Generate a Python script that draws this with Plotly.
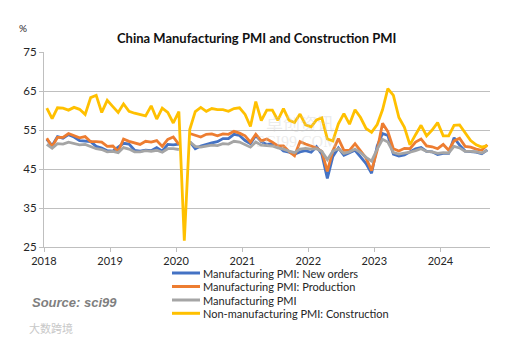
import pandas as pd
import plotly.graph_objects as go

# Monthly readings, Jan 2018 - Sep 2024 (Feb 2020 manufacturing sub-indices not plotted)
months = pd.date_range("2018-01-01", periods=81, freq="MS")

new_orders = [
    52.6, 51.0, 53.3, 52.9, 53.8, 53.2, 52.3, 52.2, 52.0, 50.8, 50.4, 49.7,
    49.6, 50.6, 51.6, 51.4, 49.8, 49.6, 49.8, 49.7, 50.5, 49.6, 51.3, 51.2,
    51.4, None, 52.0, 50.2, 50.9, 51.4, 51.7, 52.0, 52.8, 52.8, 53.9, 53.6,
    52.3, 51.5, 53.6, 52.0, 51.3, 51.5, 50.9, 49.6, 49.3, 48.8, 49.4, 49.7,
    49.3, 50.7, 48.8, 42.6, 48.2, 50.4, 48.5, 49.2, 49.8, 48.1, 46.4, 43.9,
    50.9, 54.1, 53.6, 48.8, 48.3, 48.6, 49.5, 50.2, 50.5, 49.5, 49.4, 48.7,
    49.0, 49.0, 53.0, 51.1, 49.6, 49.5, 49.3, 48.9, 49.9,
]
production = [
    52.9, 50.7, 53.1, 53.1, 54.1, 53.6, 53.0, 53.3, 52.0, 52.0, 51.9, 50.8,
    50.9, 49.5, 52.7, 52.1, 51.7, 51.3, 52.1, 51.9, 52.3, 50.8, 52.6, 53.2,
    51.3, None, 54.1, 53.7, 53.2, 53.9, 54.0, 53.5, 54.0, 53.9, 54.7, 54.2,
    53.5, 51.9, 53.9, 52.2, 52.7, 51.9, 50.9, 50.9, 49.5, 48.4, 52.0, 51.4,
    50.9, 50.4, 49.5, 44.4, 49.7, 52.8, 49.8, 49.8, 51.5, 49.6, 47.8, 44.6,
    49.8, 56.7, 54.6, 50.2, 49.6, 50.3, 50.2, 51.9, 52.7, 50.9, 50.7, 50.2,
    51.3, 49.8, 52.2, 52.9, 50.8, 50.6, 50.1, 49.8, 51.2,
]
manufacturing_pmi = [
    51.3, 50.3, 51.5, 51.4, 51.9, 51.5, 51.2, 51.3, 50.8, 50.2, 50.0, 49.4,
    49.5, 49.2, 50.5, 50.1, 49.4, 49.4, 49.7, 49.5, 49.8, 49.3, 50.2, 50.2,
    50.0, None, 52.0, 50.8, 50.6, 50.9, 51.1, 51.0, 51.5, 51.4, 52.1, 51.9,
    51.3, 50.6, 51.9, 51.1, 51.0, 50.9, 50.4, 50.1, 49.6, 49.2, 50.1, 50.3,
    50.1, 50.2, 49.5, 47.4, 49.6, 50.2, 49.0, 49.4, 50.1, 49.2, 48.0, 47.0,
    50.1, 52.6, 51.9, 49.2, 48.8, 49.0, 49.3, 49.7, 50.2, 49.5, 49.4, 49.0,
    49.2, 49.1, 50.8, 50.4, 49.5, 49.5, 49.4, 49.1, 49.8,
]
construction = [
    60.6, 57.9, 60.7, 60.6, 60.1, 60.8, 60.3, 59.0, 63.3, 63.9, 59.5, 62.6,
    61.0, 59.5, 61.7, 59.8, 59.3, 59.0, 58.6, 61.2, 57.8, 60.6, 59.5, 56.8,
    59.7, 26.6, 55.1, 59.7, 60.8, 59.8, 60.5, 60.2, 60.2, 59.8, 60.5, 60.7,
    59.0, 55.9, 62.3, 57.4, 60.1, 60.1, 57.5, 60.5, 57.5, 56.9, 59.1, 56.3,
    55.8, 57.6, 58.1, 52.7, 52.2, 56.6, 59.2, 56.5, 60.2, 58.2, 55.4, 54.4,
    56.4, 60.2, 65.6, 63.9, 58.2, 55.7, 51.2, 53.8, 56.2, 53.5, 55.0, 56.9,
    53.5, 53.5, 56.2, 56.3, 54.4, 52.3, 51.2, 50.6, 51.0,
]

series_names = [
    "Manufacturing PMI: New orders",
    "Manufacturing PMI: Production",
    "Manufacturing PMI",
    "Non-manufacturing PMI: Construction",
]
series_values = [new_orders, production, manufacturing_pmi, construction]
series_colors = ["#4472C4", "#ED7D31", "#A5A5A5", "#FFC000"]

year_ticks = [2018, 2019, 2020, 2021, 2022, 2023, 2024]
y_ticks = [25, 35, 45, 55, 65, 75]

W, H = 517, 341
L, R, T, B = 44, 27, 52, 94
PW, PH = W - L - R, H - T - B


def px(x):
    return (x - L) / PW


def py(y):
    return (H - B - y) / PH


FONT = "Lato"
fig = go.Figure()
for name, vals, color in zip(series_names, series_values, series_colors):
    fig.add_trace(go.Scatter(
        x=months, y=vals, name=name, mode="lines",
        line=dict(color=color, width=2.8),
        xperiod="M1", xperiodalignment="middle",
        connectgaps=False, showlegend=False,
    ))

annotations = []
shapes = []

# faint publisher watermark in the plot area
annotations.append(dict(x=px(300), y=py(108), xref="paper", yref="paper",
                        text="卓创资讯", showarrow=False,
                        font=dict(family="Noto Sans CJK SC", size=17, color="rgba(200,200,200,0.35)")))
annotations.append(dict(x=px(296), y=py(141), xref="paper", yref="paper",
                        text="SCI99.COM", showarrow=False,
                        font=dict(family="Liberation Serif", size=16, color="rgba(200,200,200,0.35)")))

# legend drawn beneath the axis
legend_rows = [273, 286.5, 300, 313.3]
for name, color, ry in zip(series_names, series_colors, legend_rows):
    shapes.append(dict(type="line", xref="paper", yref="paper",
                       x0=px(172), x1=px(200), y0=py(ry), y1=py(ry),
                       line=dict(color=color, width=3)))
    annotations.append(dict(x=px(201), y=py(ry), xref="paper", yref="paper",
                            xanchor="left", yanchor="middle", text=name, showarrow=False,
                            font=dict(family=FONT, size=11, color="#262626")))

annotations.append(dict(x=px(23), y=py(28), xref="paper", yref="paper",
                        xanchor="center", yanchor="middle", text="%", showarrow=False,
                        font=dict(family=FONT, size=10, color="#262626")))
annotations.append(dict(x=px(256), y=py(38), xref="paper", yref="paper",
                        xanchor="center", yanchor="middle",
                        text="<b>China Manufacturing PMI and Construction PMI</b>", showarrow=False,
                        font=dict(family=FONT, size=13, color="#111111")))
annotations.append(dict(x=px(30), y=py(302), xref="paper", yref="paper",
                        xanchor="left", yanchor="middle",
                        text="<b><i>Source: sci99</i></b>", showarrow=False,
                        font=dict(family="Liberation Sans", size=13, color="#7F7F7F")))
annotations.append(dict(x=px(27), y=py(328), xref="paper", yref="paper",
                        xanchor="left", yanchor="middle",
                        text="大数跨境", showarrow=False,
                        font=dict(family="Noto Sans CJK SC", size=11, color="#C8C8C8")))

fig.update_layout(
    width=W, height=H,
    margin=dict(l=L, r=R, t=T, b=B),
    paper_bgcolor="white", plot_bgcolor="white",
    showlegend=False,
    annotations=annotations, shapes=shapes,
    font=dict(family=FONT, size=11, color="#404040"),
)
fig.update_xaxes(
    type="date",
    range=["2018-01-01", "2024-10-01"],
    tickvals=[f"{y}-01-01" for y in year_ticks],
    ticktext=[str(y) for y in year_ticks],
    showgrid=False, showline=True, linecolor="#BFBFBF", linewidth=1,
    ticks="outside", ticklen=4, tickcolor="#BFBFBF",
    tickfont=dict(family=FONT, size=11, color="#262626"),
)
fig.update_yaxes(
    range=[25, 75], tickvals=y_ticks,
    showgrid=True, gridcolor="#BFBFBF", gridwidth=1, zeroline=False,
    showline=True, linecolor="#BFBFBF", linewidth=1,
    ticks="outside", ticklen=4, tickcolor="#BFBFBF",
    tickfont=dict(family=FONT, size=11.5, color="#262626"),
)

fig.write_html("out.html")
